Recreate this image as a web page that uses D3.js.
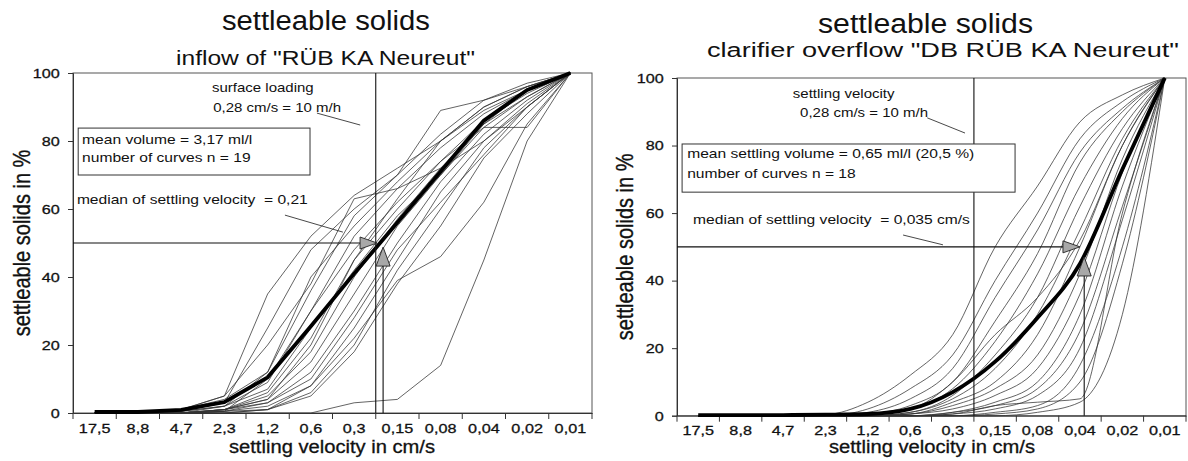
<!DOCTYPE html>
<html>
<head>
<meta charset="utf-8">
<script src="https://cdn.jsdelivr.net/npm/d3@7"></script>
<style>
  body { margin: 0; background: #fff; }
  svg { display: block; }
  text { font-family: "Liberation Sans", Arial, sans-serif; fill: #111; white-space: pre; }
  .heavy { stroke: #111; stroke-width: 0.3px; }
</style>
</head>
<body>
<svg id="chart" width="1188" height="461"></svg>
<script>
// Settling velocity classes (cm/s), fastest to slowest
const velocityLabels = ["17,5", "8,8", "4,7", "2,3", "1,2", "0,6", "0,3", "0,15", "0,08", "0,04", "0,02", "0,01"];
const percentTicks = [0, 20, 40, 60, 80, 100];

// Cumulative settleable solids (%) per velocity class – inflow, 19 samples
const inflowCurves = [
  [0, 0, 1, 5, 35, 52, 64, 72, 80, 90, 96, 100],
  [0, 0, 0.5, 3, 25, 48, 60, 70, 82, 92, 97, 100],
  [0, 0, 1, 4, 12, 40, 55, 68, 80, 89, 95, 100],
  [0, 0, 0.5, 2, 9, 30, 52, 66, 78, 88, 95, 100],
  [0, 0, 0, 1, 6, 22, 45, 60, 74, 86, 94, 100],
  [0, 0, 0, 1, 5, 18, 40, 57, 72, 85, 93, 100],
  [0, 0, 0, 1, 4, 15, 35, 55, 70, 84, 93, 100],
  [0, 0, 0, 0.5, 3, 12, 30, 50, 68, 82, 92, 100],
  [0, 0, 0, 0.5, 2, 8, 25, 45, 65, 80, 91, 100],
  [0, 0, 0, 0.5, 1, 6, 20, 42, 60, 78, 90, 100],
  [0, 0, 0, 0, 1, 5, 18, 38, 55, 75, 88, 100],
  [0, 0, 0, 0.5, 10, 30, 48, 62, 74, 84, 84, 100],
  [0, 0, 0, 2, 12, 36, 58, 70, 89, 92, 96, 100],
  [0, 0, 0, 0, 0, 0, 3, 4, 14, 45, 80, 100],
  [0, 0, 0, 0, 1, 8, 22, 39, 46, 62, 85, 100],
  [0, 0, 1, 5, 20, 38, 63, 66, 72, 80, 90, 100],
  [0, 0, 0, 1, 3, 10, 28, 48, 62, 76, 90, 100],
  [0, 0, 0.5, 2, 7, 25, 42, 58, 70, 85, 95, 100],
  [0, 0, 0, 1, 4, 20, 45, 63, 80, 90, 96, 100]
];
const inflowMean = [0.3, 0.3, 0.9, 3.2, 10.5, 25.5, 41, 56, 71, 86, 95, 100];

// Cumulative settleable solids (%) per velocity class – clarifier overflow, 18 samples
const overflowCurves = [
  [0, 0, 0, 0.3, 4, 12, 24, 50, 68, 87, 95, 100],
  [0, 0, 0, 0, 2, 8, 18, 40, 60, 82, 93, 100],
  [0, 0, 0, 0, 1, 5, 14, 35, 55, 78, 91, 100],
  [0, 0, 0, 0, 0.5, 3, 10, 28, 48, 75, 90, 100],
  [0, 0, 0, 0, 0.5, 2, 8, 22, 42, 68, 88, 100],
  [0, 0, 0, 0, 0, 1, 6, 18, 35, 62, 85, 100],
  [0, 0, 0, 0, 0, 1, 5, 14, 30, 55, 82, 100],
  [0, 0, 0, 0, 0, 0.5, 4, 10, 24, 50, 80, 100],
  [0, 0, 0, 0, 0, 0.5, 3, 8, 18, 42, 76, 100],
  [0, 0, 0, 0, 0, 0.5, 2, 6, 14, 36, 72, 100],
  [0, 0, 0, 0, 0, 0, 1, 4, 10, 30, 68, 100],
  [0, 0, 0, 0, 0, 0, 1, 3, 8, 25, 62, 100],
  [0, 0, 0, 0, 0, 0, 0.5, 2, 6, 20, 58, 100],
  [0, 0, 0, 0, 0, 0, 0.5, 3, 4, 5, 60, 100],
  [0, 0, 0, 0, 0, 0, 0, 1, 3, 15, 50, 100],
  [0, 0, 0, 0, 0, 0, 0, 0.5, 2, 10, 45, 100],
  [0, 0, 0, 0, 0, 0, 0, 0, 1, 4, 30, 100],
  [0, 0, 0, 0, 0.5, 2, 10, 24, 35, 52, 80, 100]
];
const overflowMean = [0.2, 0.2, 0.2, 0.3, 0.5, 2, 7, 16, 29, 45, 73, 100];

const panels = [
  {
    title: "settleable solids", titleBox: [222, 430, 30],
    subtitle: 'inflow of "RÜB KA Neureut"', subtitleBox: [176, 475, 65],
    curves: inflowCurves, mean: inflowMean, shape: d3.curveLinear,
    frame: { left: 73, right: 592, top: 73, bottom: 413 },
    yTitleX: 22, xTitleBox: [229, 435, 453],
    loadingLine: 6.5,
    loadingText: ["surface loading", "0,28 cm/s = 10 m/h"],
    loadingTextPos: [[3.89, 94.4], [4.22, 88.5]],
    loadingLeader: [[5.14, 88.2], [6.14, 84.7]],
    box: { i0: -0.38, i1: 4.98, v0: 83.8, v1: 70 },
    boxLines: ["mean volume = 3,17 ml/l", "number of curves n = 19"],
    boxTextPos: [[-0.29, 79.1], [-0.29, 73.8]],
    medianText: "median of settling velocity  = 0,21", medianTextPos: [-0.41, 61.5],
    medianLeader: [[4.40, 58.2], [5.74, 53.2]],
    medianTipH: 6.53, medianX: 6.67, medianTipV: 48.8
  },
  {
    title: "settleable solids", titleBox: [818, 1033, 33],
    subtitle: 'clarifier overflow "DB RÜB KA Neureut"', subtitleBox: [707, 1179, 57],
    curves: overflowCurves, mean: overflowMean, shape: d3.curveMonotoneX,
    frame: { left: 677, right: 1186, top: 78, bottom: 415.7 },
    yTitleX: 625, xTitleBox: [829, 1035, 453],
    loadingLine: 6.5,
    loadingText: ["settling velocity", "0,28 cm/s = 10 m/h"],
    loadingTextPos: [[3.43, 94.1], [3.91, 88.5]],
    loadingLeader: [[5.40, 88.2], [6.29, 83.7]],
    box: { i0: -0.38, i1: 7.47, v0: 80.46, v1: 66.2 },
    boxLines: ["mean settling volume = 0,65 ml/l (20,5 %)", "number of curves n = 18"],
    boxTextPos: [[-0.26, 76.2], [-0.26, 70.3]],
    medianText: "median of settling velocity  = 0,035 cm/s", medianTextPos: [-0.12, 56.8],
    medianLeader: [[4.83, 53.5], [5.77, 50.6]],
    medianTipH: 9.0, medianX: 9.1, medianTipV: 47
  }
];

const svg = d3.select("#chart");
const SX = 1.2; // horizontal widening of small print

function smallText(g, str, x, y, anchor, size) {
  return g.append("text")
    .attr("transform", `translate(${x},${y}) scale(${SX},1)`)
    .attr("text-anchor", anchor || "start")
    .style("font-size", (size || 13) + "px")
    .text(str);
}

function fittedText(g, str, box, size, heavy) {
  return g.append("text")
    .attr("class", heavy ? "heavy" : null)
    .attr("x", box[0]).attr("y", box[2])
    .attr("textLength", box[1] - box[0])
    .attr("lengthAdjust", "spacingAndGlyphs")
    .style("font-size", size + "px")
    .text(str);
}

panels.forEach(p => {
  const f = p.frame;
  const g = svg.append("g");

  const band = d3.scaleBand(velocityLabels, [f.left, f.right]);
  const xPt = d3.scalePoint(velocityLabels, [f.left, f.right]).padding(0.5);
  const xi = d3.scaleLinear([0, velocityLabels.length - 1],
                            [xPt(velocityLabels[0]), xPt(velocityLabels[velocityLabels.length - 1])]);
  const y = d3.scaleLinear([0, 100], [f.bottom, f.top]);

  // titles
  fittedText(g, p.title, p.titleBox, 27, false);
  fittedText(g, p.subtitle, p.subtitleBox, 20, false);

  // plot frame
  g.append("rect")
    .attr("x", f.left).attr("y", f.top)
    .attr("width", f.right - f.left).attr("height", f.bottom - f.top)
    .attr("fill", "none").attr("stroke", "#555").attr("stroke-width", 1);

  // y axis
  const yAxis = g.append("g").attr("transform", `translate(${f.left},0)`)
    .call(d3.axisLeft(y).tickValues(percentTicks).tickSize(5).tickPadding(6));
  yAxis.attr("font-family", null);
  yAxis.select(".domain").attr("stroke", "#333");
  yAxis.selectAll(".tick line").attr("stroke", "#333");
  yAxis.selectAll("text").style("font-size", "13.5px").attr("class", "heavy")
    .attr("transform", `scale(${SX},1)`);

  // x axis: labels centred in each class, ticks on the class borders
  const xAxis = g.append("g").attr("transform", `translate(0,${f.bottom})`)
    .call(d3.axisBottom(band).tickSize(0).tickPadding(10));
  xAxis.attr("font-family", null);
  xAxis.select(".domain").attr("stroke", "#333");
  xAxis.selectAll("text").style("font-size", "13.5px").attr("class", "heavy")
    .attr("transform", `scale(${SX},1)`);
  const borders = velocityLabels.map(d => band(d)).concat([f.right]);
  g.append("g").selectAll("line").data(borders).join("line")
    .attr("x1", d => d).attr("x2", d => d)
    .attr("y1", f.bottom).attr("y2", f.bottom + 6)
    .attr("stroke", "#333");

  // axis titles
  g.append("text")
    .attr("class", "heavy")
    .attr("transform", `translate(${p.yTitleX},${(f.top + f.bottom) / 2}) scale(${SX},1) rotate(-90)`)
    .attr("text-anchor", "middle").attr("dy", "0.35em")
    .style("font-size", "20px")
    .text("settleable solids in %");
  fittedText(g, "settling velocity in cm/s", p.xTitleBox, 18, true);

  // individual sample curves
  const line = d3.line()
    .x((d, i) => xi(i))
    .y(d => y(d))
    .curve(p.shape);
  g.append("g").selectAll("path").data(p.curves).join("path")
    .attr("d", line)
    .attr("fill", "none")
    .attr("stroke", "#333")
    .attr("stroke-width", 0.85)
    .attr("stroke-opacity", 0.9);

  // mean curve
  g.append("path").datum(p.mean)
    .attr("d", line)
    .attr("fill", "none")
    .attr("stroke", "#000")
    .attr("stroke-width", 3.8)
    .attr("stroke-linejoin", "round");

  // surface loading line
  g.append("line")
    .attr("x1", xi(p.loadingLine)).attr("x2", xi(p.loadingLine))
    .attr("y1", f.top).attr("y2", f.bottom)
    .attr("stroke", "#111").attr("stroke-width", 1.1);
  p.loadingText.forEach((t, k) => {
    smallText(g, t, xi(p.loadingTextPos[k][0]), y(p.loadingTextPos[k][1]), "middle", 12.5);
  });
  g.append("line")
    .attr("x1", xi(p.loadingLeader[0][0])).attr("y1", y(p.loadingLeader[0][1]))
    .attr("x2", xi(p.loadingLeader[1][0])).attr("y2", y(p.loadingLeader[1][1]))
    .attr("stroke", "#333").attr("stroke-width", 0.9);

  // info box
  g.append("rect")
    .attr("x", xi(p.box.i0)).attr("y", y(p.box.v0))
    .attr("width", xi(p.box.i1) - xi(p.box.i0))
    .attr("height", y(p.box.v1) - y(p.box.v0))
    .attr("fill", "#fff").attr("stroke", "#333").attr("stroke-width", 1);
  p.boxLines.forEach((t, k) => {
    smallText(g, t, xi(p.boxTextPos[k][0]), y(p.boxTextPos[k][1]), "start", 13);
  });

  // median annotation
  smallText(g, p.medianText, xi(p.medianTextPos[0]), y(p.medianTextPos[1]), "start", 13);
  g.append("line")
    .attr("x1", xi(p.medianLeader[0][0])).attr("y1", y(p.medianLeader[0][1]))
    .attr("x2", xi(p.medianLeader[1][0])).attr("y2", y(p.medianLeader[1][1]))
    .attr("stroke", "#333").attr("stroke-width", 0.9);

  const hx = xi(p.medianTipH), hy = y(50);
  g.append("line")
    .attr("x1", f.left).attr("x2", hx - 14)
    .attr("y1", hy).attr("y2", hy)
    .attr("stroke", "#111").attr("stroke-width", 1.2);
  g.append("path")
    .attr("d", `M${hx},${hy} L${hx - 17},${hy - 6} L${hx - 17},${hy + 6} Z`)
    .attr("fill", "#a8a8a8").attr("stroke", "#222").attr("stroke-width", 0.9);

  const vx = xi(p.medianX), vy = y(p.medianTipV);
  g.append("line")
    .attr("x1", vx).attr("x2", vx)
    .attr("y1", f.bottom).attr("y2", vy + 16)
    .attr("stroke", "#111").attr("stroke-width", 1.1);
  g.append("path")
    .attr("d", `M${vx},${vy} L${vx - 7},${vy + 19} L${vx + 7},${vy + 19} Z`)
    .attr("fill", "#a8a8a8").attr("stroke", "#222").attr("stroke-width", 0.9);
});
</script>
</body>
</html>
